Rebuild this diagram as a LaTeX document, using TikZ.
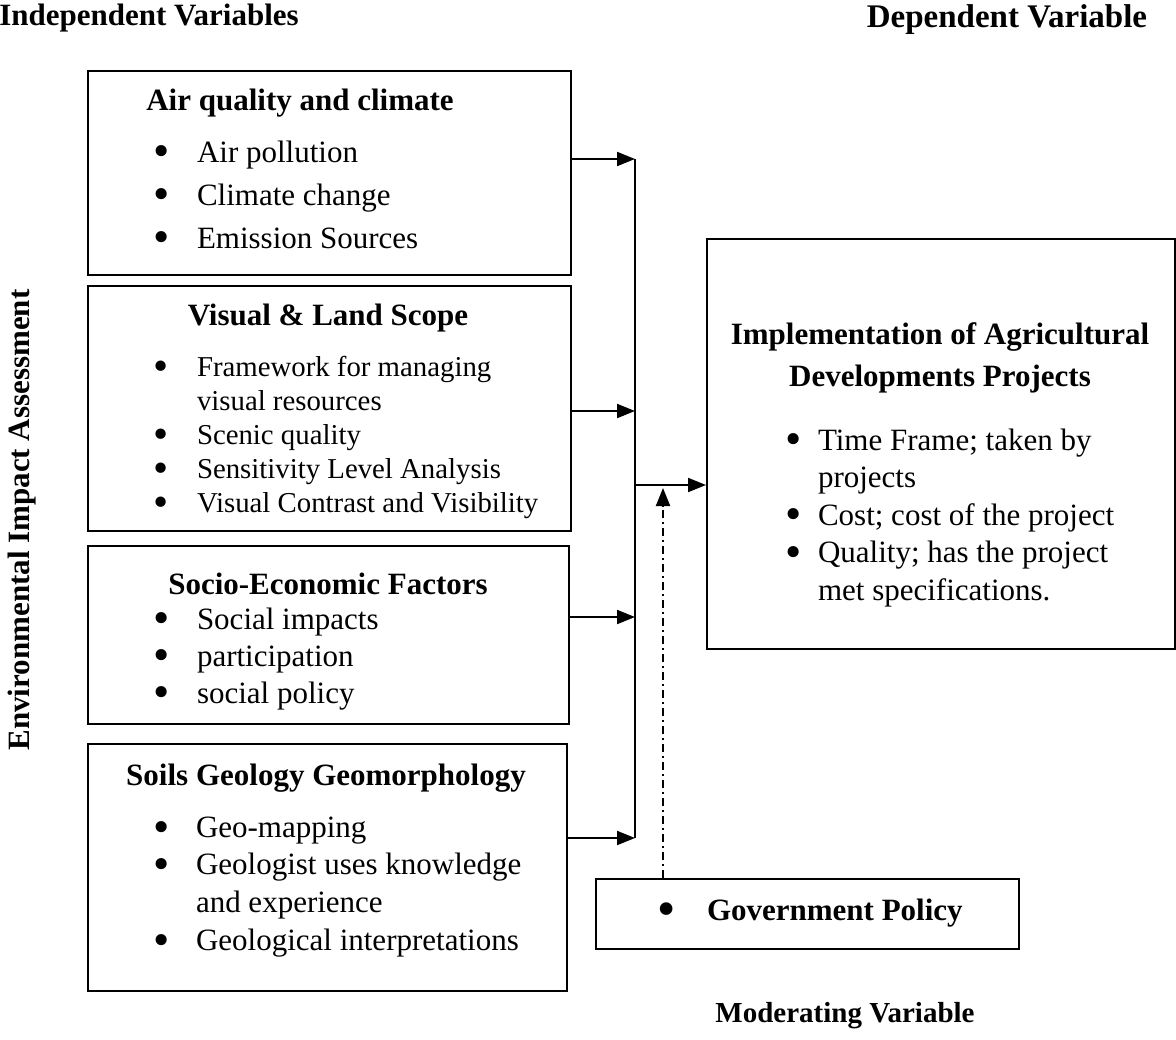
\documentclass[tikz,border=0pt]{standalone}
\usepackage{fontspec}
\setmainfont{Liberation Serif}
\usetikzlibrary{arrows.meta}

\newcommand{\bul}[1][22pt]{\makebox[#1][l]{\raisebox{-0.35ex}{\scalebox{1.5}{\textbullet}}}}

\begin{document}
\begin{tikzpicture}[x=0.5pt,y=-0.5pt,line width=1pt,
  box/.style={draw,line width=1pt,anchor=north west,inner sep=0pt},
  head/.style={font=\fontsize{15.5}{21}\selectfont\bfseries,align=center,inner sep=0pt},
  items/.style={align=left,anchor=base west,inner sep=0pt},
  arr/.style={-{Triangle[length=9pt,width=7pt]}}]
\useasboundingbox (0,0) rectangle (1176,1039);

% outer labels
\node[head] (indep) at (149,18) {Independent Variables};
\node[head,font=\fontsize{16.5}{20}\selectfont\bfseries] (depl) at (1007,20) {Dependent Variable};
\node[head,font=\fontsize{14.5}{20}\selectfont\bfseries] (modl) at (845,1016) {Moderating Variable};
\node[head,rotate=90] (eia) at (22,520) {Environmental Impact Assessment};

% boxes
\node[box,minimum width=241.5pt,minimum height=102pt] (aq) at (87,70) {};
\node[box,minimum width=241.5pt,minimum height=122.5pt] (vis) at (87,285) {};
\node[box,minimum width=240.5pt,minimum height=89pt] (soc) at (87,545) {};
\node[box,minimum width=239.5pt,minimum height=123.5pt] (soil) at (87,743) {};
\node[box,minimum width=234pt,minimum height=205pt] (dep) at (706,238) {};
\node[box,minimum width=211.5pt,minimum height=35pt] (gov) at (595,878) {};

% box texts
\node[head] (aqh) at (300,103) {Air quality and climate};
\node[items,font=\fontsize{15.5}{21.5}\selectfont] (aqi) at (152,248)
  {\bul Air pollution\\ \bul Climate change\\ \bul Emission Sources};

\node[head] (vish) at (328,318) {Visual \& Land Scope};
\node[items,font=\fontsize{14.4}{17}\selectfont] (visi) at (152,512)
  {\bul Framework for managing\\ \hspace*{22pt}visual resources\\ \bul Scenic quality\\
   \bul Sensitivity Level Analysis\\ \bul Visual Contrast and Visibility};

\node[head] (soch) at (328,584) {Socio-Economic Factors};
\node[items,font=\fontsize{15.5}{18.5}\selectfont] (soci) at (152,703)
  {\bul Social impacts\\ \bul participation\\ \bul social policy};

\node[head] (soilh) at (326,778) {Soils Geology Geomorphology};
\node[items,font=\fontsize{15.5}{18.8}\selectfont] (soili) at (152,950)
  {\bul[21.5pt]Geo-mapping\\ \bul[21.5pt]Geologist uses knowledge\\ \hspace*{21.5pt}and experience\\
   \bul[21.5pt]Geological interpretations};

\node[head] (deph) at (940,358) {Implementation of Agricultural\\ Developments Projects};
\node[items,font=\fontsize{15.5}{18.75}\selectfont] (depi) at (784,600)
  {\bul[16.5pt]Time Frame; taken by\\ \hspace*{16.5pt}projects\\ \bul[16.5pt]Cost; cost of the project\\
   \bul[16.5pt]Quality; has the project\\ \hspace*{16.5pt}met specifications.};

\node[items,font=\fontsize{15.5}{17}\selectfont\bfseries] (govi) at (657,920)
  {\bul[24.5pt]Government Policy};

% connectors
\coordinate (j1) at (635,159);
\coordinate (j2) at (635,411);
\coordinate (j3) at (635,617);
\coordinate (j4) at (635,838);
\coordinate (jm) at (635,485);
\coordinate (jg) at (663,488);
\draw (j1) -- (j4);
\draw[arr] (aq.east |- j1) -- (j1);
\draw[arr] (vis.east |- j2) -- (j2);
\draw[arr] (soc.east |- j3) -- (j3);
\draw[arr] (soil.east |- j4) -- (j4);
\draw[arr] (jm) -- (dep.west |- jm);
\draw[arr,dash pattern=on 4pt off 2pt on 1pt off 2pt] (gov.north -| jg) -- (jg);
\end{tikzpicture}
\end{document}
